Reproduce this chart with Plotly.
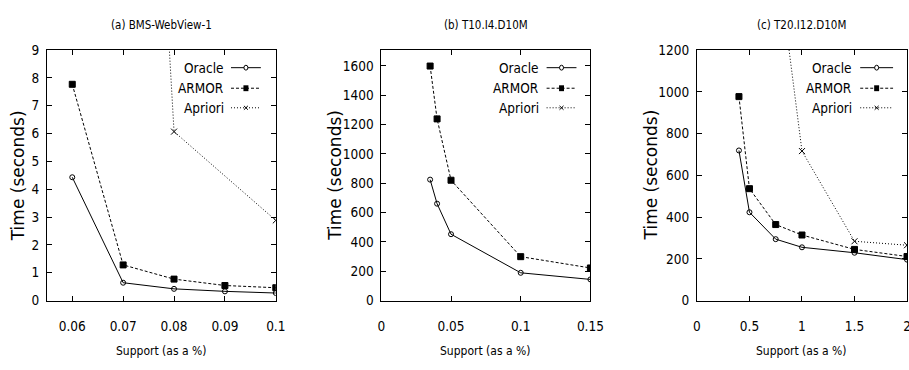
import plotly.graph_objects as go

# reference canvas size (layout is expressed as fractions of it)
W, H = 909, 370
# figure size in CSS px (the capture maps a slightly larger page onto 909x370)
FIG_W, FIG_H = 923, 378

# ---------------- data ----------------
titles = ["(a) BMS-WebView-1", "(b) T10.I4.D10M", "(c) T20.I12.D10M"]
series_names = ["Oracle", "ARMOR", "Apriori"]

sup_a = [0.06, 0.07, 0.08, 0.09, 0.1]
oracle_a = [4.43, 0.64, 0.42, 0.33, 0.27]
armor_a = [7.77, 1.28, 0.77, 0.54, 0.46]
apriori_a_x = [0.07, 0.08, 0.1]
apriori_a = [38.0, 6.07, 2.88]

sup_b = [0.035, 0.04, 0.05, 0.1, 0.15]
oracle_b = [824, 660, 452, 189, 144]
armor_b = [1598, 1238, 820, 299, 222]
apriori_b_x = []
apriori_b = []

sup_c = [0.4, 0.5, 0.75, 1.0, 1.5, 2.0]
oracle_c = [719, 423, 294, 255, 229, 196]
armor_c = [977, 536, 364, 314, 245, 211]
apriori_c_x = [0.75, 1.0, 1.5, 2.0]
apriori_c = [1700, 716, 284, 265]

xticks_a = [0.06, 0.07, 0.08, 0.09, 0.1]
xticks_b = [0, 0.05, 0.1, 0.15]
xticks_c = [0, 0.5, 1, 1.5, 2]
yticks_a = list(range(0, 10))
yticks_b = list(range(0, 1601, 200))
yticks_c = list(range(0, 1201, 200))

# ---------------- layout geometry (px of reference) ----------------
panels = [
    dict(x0=43, x1=273, xr=[0.055, 0.1], yr=[0, 9], xt=xticks_a, yt=yticks_a,
         leg_text=223, leg_l0=228, leg_l1=258),
    dict(x0=379, x1=589, xr=[0, 0.15], yr=[0, 1707], xt=xticks_b, yt=yticks_b,
         leg_text=539, leg_l0=545, leg_l1=575),
    dict(x0=696, x1=907, xr=[0, 2], yr=[0, 1200], xt=xticks_c, yt=yticks_c,
         leg_text=854, leg_l0=860, leg_l1=893),
]
ytop, ybot = 43, 299
leg_rows = [61, 82, 102]
ytitle_x = [14, 333, 650]

NARROW = "DejaVu Sans Condensed, Liberation Sans Narrow, Arial Narrow, Liberation Sans, sans-serif"
WIDE = "DejaVu Sans, Liberation Sans, sans-serif"

def px(x):
    return x / W

def py(y):
    return 1 - y / H

styles = {
    "Oracle": dict(dash="solid", symbol="circle-open", size=5),
    "ARMOR": dict(dash="3px,2px", symbol="square", size=6),
    "Apriori": dict(dash="1px,2px", symbol="x-thin-open", size=6),
}

data = [
    [(sup_a, oracle_a), (sup_a, armor_a), (apriori_a_x, apriori_a)],
    [(sup_b, oracle_b), (sup_b, armor_b), (apriori_b_x, apriori_b)],
    [(sup_c, oracle_c), (sup_c, armor_c), (apriori_c_x, apriori_c)],
]

fig = go.Figure()
layout = dict(
    width=FIG_W, height=FIG_H, margin=dict(l=0, r=0, t=0, b=0, pad=0),
    paper_bgcolor="white", plot_bgcolor="white", showlegend=False,
    font=dict(family=NARROW, size=13, color="black"),
)
annotations = []
shapes = []

def ann(text, x, y, size, family=NARROW, xanchor="center", angle=0):
    annotations.append(dict(text=text, x=px(x), y=py(y), xref="paper", yref="paper",
                            xanchor=xanchor, yanchor="middle", showarrow=False,
                            textangle=angle, font=dict(family=family, size=size, color="black")))

for i, p in enumerate(panels):
    sfx = "" if i == 0 else str(i + 1)
    xa, ya = "x" + sfx, "y" + sfx
    for name, (xs, ys) in zip(series_names, data[i]):
        st = styles[name]
        fig.add_trace(go.Scatter(
            x=xs, y=ys, mode="lines+markers", name=name,
            xaxis=xa, yaxis=ya, cliponaxis=True,
            line=dict(color="black", width=1, dash=st["dash"]),
            marker=dict(symbol=st["symbol"], size=st["size"], color="black",
                        line=dict(color="black", width=1)),
        ))
    common = dict(showgrid=False, zeroline=False, showline=True, linecolor="black",
                  linewidth=1, mirror="ticks", ticks="inside", ticklen=5,
                  tickcolor="black", tickwidth=1,
                  tickfont=dict(family=NARROW, size=13.5, color="black"))
    layout["xaxis" + sfx] = dict(common, domain=[px(p["x0"]), px(p["x1"])],
                                 range=p["xr"], anchor=ya, tickvals=p["xt"],
                                 ticklabelstandoff=13)
    layout["yaxis" + sfx] = dict(common, domain=[py(ybot), py(ytop)],
                                 range=p["yr"], anchor=xa, tickvals=p["yt"],
                                 ticklabelstandoff=4)
    cx = (p["x0"] + p["x1"]) / 2
    ann(titles[i], cx, 17, 11.5)
    ann("Support (as a %)", cx, 351, 12)
    ann("Time (seconds)", ytitle_x[i], (ytop + ybot) / 2, 17, family=WIDE, angle=-90)
    # legend (text left, sample right, as in gnuplot)
    for name, ry in zip(series_names, leg_rows):
        st = styles[name]
        ann(name, p["leg_text"], ry, 13.5, xanchor="right")
        shapes.append(dict(type="line", xref="paper", yref="paper",
                           x0=px(p["leg_l0"]), x1=px(p["leg_l1"]), y0=py(ry), y1=py(ry),
                           line=dict(color="black", width=1, dash=st["dash"])))
        mx = (p["leg_l0"] + p["leg_l1"]) / 2
        if name == "Oracle":
            shapes.append(dict(type="circle", xref="paper", yref="paper",
                               x0=px(mx - 2), x1=px(mx + 2), y0=py(ry + 2.5), y1=py(ry - 2.5),
                               line=dict(color="black", width=1), fillcolor="white"))
        elif name == "ARMOR":
            shapes.append(dict(type="rect", xref="paper", yref="paper",
                               x0=px(mx - 2.5), x1=px(mx + 2.5), y0=py(ry + 3), y1=py(ry - 3),
                               line=dict(color="black", width=0), fillcolor="black"))
        else:
            for d in (1, -1):
                shapes.append(dict(type="line", xref="paper", yref="paper",
                                   x0=px(mx - 2), x1=px(mx + 2),
                                   y0=py(ry - 2 * d), y1=py(ry + 2 * d),
                                   line=dict(color="black", width=1)))

layout["annotations"] = annotations
layout["shapes"] = shapes
fig.update_layout(**layout)
fig.write_html(
    "out.html",
    config={"displayModeBar": False},
    post_script=("document.documentElement.style.margin='0';"
                 "document.documentElement.style.padding='0';"
                 "document.body.style.margin='0';document.body.style.padding='0';"
                 "document.documentElement.style.overflow='hidden';"
                 "document.body.style.overflow='hidden';"),
)
